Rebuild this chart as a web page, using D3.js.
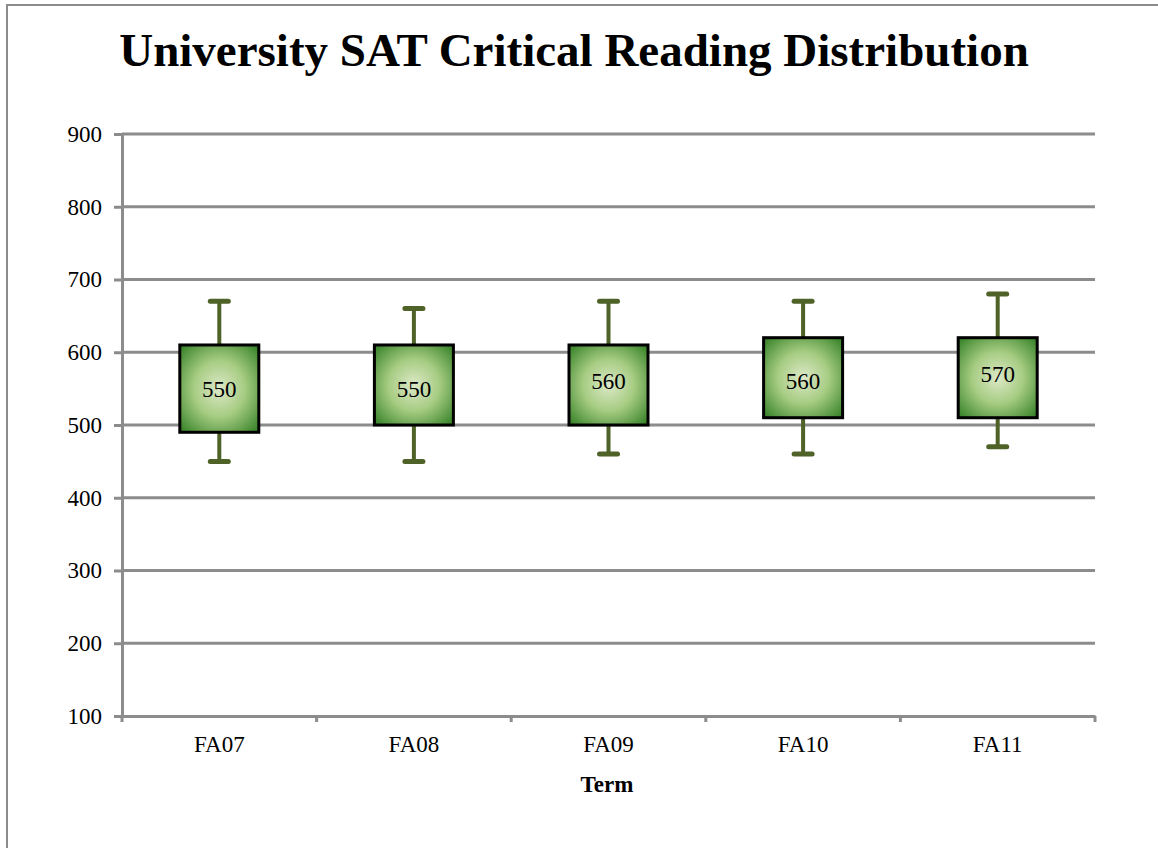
<!DOCTYPE html>
<html>
<head>
<meta charset="utf-8">
<script src="https://cdn.jsdelivr.net/npm/d3@7"></script>
<style>
  html, body { margin: 0; padding: 0; background: #fff; }
  svg { display: block; font-family: "Liberation Serif", "DejaVu Serif", serif; }
</style>
</head>
<body>
<div id="chart"></div>
<script>
// terms and the five-number summary
const terms = ['FA07', 'FA08', 'FA09', 'FA10', 'FA11'];
const mins = [450, 450, 460, 460, 470];
const q1s = [490, 500, 500, 510, 510];
const medians = [550, 550, 560, 560, 570];
const q3s = [610, 610, 610, 620, 620];
const maxs = [670, 660, 670, 670, 680];
const yTicks = [100, 200, 300, 400, 500, 600, 700, 800, 900];

const width = 1158;
const height = 848;
const margin = { left: 122, right: 63, top: 134, bottom: 132 };
const serif = '"Liberation Serif", "DejaVu Serif", serif';

const svg = d3.select('#chart')
  .append('svg')
  .attr('width', width)
  .attr('height', height);

// box fill
const grad = svg.append('defs').append('radialGradient')
  .attr('id', 'boxFill')
  .attr('cx', '50%').attr('cy', '50%').attr('r', '72%');
grad.append('stop').attr('offset', '0%').attr('stop-color', '#dde9c8');
grad.append('stop').attr('offset', '45%').attr('stop-color', '#a6cc82');
grad.append('stop').attr('offset', '100%').attr('stop-color', '#2a7a1e');

// outer frame
svg.append('rect')
  .attr('x', 7).attr('y', 5)
  .attr('width', width + 10).attr('height', height + 10)
  .attr('fill', 'none')
  .attr('stroke', '#8c8c8c')
  .attr('stroke-width', 2);

const x = d3.scaleBand()
  .domain(terms)
  .range([margin.left, width - margin.right]);

const y = d3.scaleLinear()
  .domain([100, 900])
  .range([height - margin.bottom, margin.top]);

// gridlines
svg.append('g')
  .selectAll('line')
  .data(yTicks.slice(1))
  .enter()
  .append('line')
  .attr('x1', margin.left)
  .attr('x2', width - margin.right)
  .attr('y1', d => y(d))
  .attr('y2', d => y(d))
  .attr('stroke', '#8c8c8c')
  .attr('stroke-width', 3);

// y axis
const yAxis = svg.append('g')
  .attr('transform', `translate(${margin.left},0)`)
  .call(d3.axisLeft(y).tickValues(yTicks).tickSize(8).tickPadding(12));
yAxis.attr('font-family', serif);
yAxis.select('.domain').attr('stroke', '#8c8c8c').attr('stroke-width', 3);
yAxis.selectAll('.tick line').attr('stroke', '#8c8c8c').attr('stroke-width', 3);
yAxis.selectAll('.tick text')
  .attr('fill', '#000')
  .style('font-size', '23px');

// x axis, ticks between categories
const xAxis = svg.append('g')
  .attr('transform', `translate(0,${height - margin.bottom})`)
  .call(d3.axisBottom(x).tickSize(0).tickPadding(20));
xAxis.attr('font-family', serif);
xAxis.select('.domain').attr('stroke', '#8c8c8c').attr('stroke-width', 3);
xAxis.selectAll('.tick text')
  .attr('fill', '#000')
  .style('font-size', '23px');
xAxis.append('g')
  .selectAll('line')
  .data(terms)
  .enter()
  .append('line')
  .attr('x1', d => x(d) + x.bandwidth())
  .attr('x2', d => x(d) + x.bandwidth())
  .attr('y1', 0)
  .attr('y2', 6)
  .attr('stroke', '#8c8c8c')
  .attr('stroke-width', 3);
xAxis.append('line')
  .attr('x1', margin.left).attr('x2', margin.left)
  .attr('y1', 0).attr('y2', 6)
  .attr('stroke', '#8c8c8c')
  .attr('stroke-width', 3);

// boxes
const boxW = 79;
const capW = 18;
const boxes = svg.append('g')
  .selectAll('g')
  .data(terms.map((t, i) => ({ term: t, min: mins[i], q1: q1s[i], med: medians[i], q3: q3s[i], max: maxs[i] })))
  .enter()
  .append('g')
  .attr('transform', d => `translate(${x(d.term) + x.bandwidth() / 2},0)`);

boxes.append('line')
  .attr('x1', 0).attr('x2', 0)
  .attr('y1', d => y(d.max))
  .attr('y2', d => y(d.min))
  .attr('stroke', '#4f6228')
  .attr('stroke-width', 4);

boxes.selectAll('.cap')
  .data(d => [d.min, d.max])
  .enter()
  .append('line')
  .attr('class', 'cap')
  .attr('x1', -capW / 2).attr('x2', capW / 2)
  .attr('y1', v => y(v))
  .attr('y2', v => y(v))
  .attr('stroke', '#4f6228')
  .attr('stroke-width', 5)
  .attr('stroke-linecap', 'round');

boxes.append('rect')
  .attr('x', -boxW / 2)
  .attr('width', boxW)
  .attr('y', d => y(d.q3))
  .attr('height', d => y(d.q1) - y(d.q3))
  .attr('fill', 'url(#boxFill)')
  .attr('stroke', '#000')
  .attr('stroke-width', 3);

boxes.append('text')
  .attr('text-anchor', 'middle')
  .attr('y', d => y(d.med))
  .attr('dy', '0.35em')
  .style('font-size', '23px')
  .text(d => d.med);

// title and axis title
svg.append('text')
  .attr('x', 574)
  .attr('y', 66)
  .attr('text-anchor', 'middle')
  .style('font-size', '47px')
  .style('font-weight', 'bold')
  .text('University SAT Critical Reading Distribution');

svg.append('text')
  .attr('x', 607)
  .attr('y', 792)
  .attr('text-anchor', 'middle')
  .style('font-size', '23px')
  .style('font-weight', 'bold')
  .text('Term');
</script>
</body>
</html>
